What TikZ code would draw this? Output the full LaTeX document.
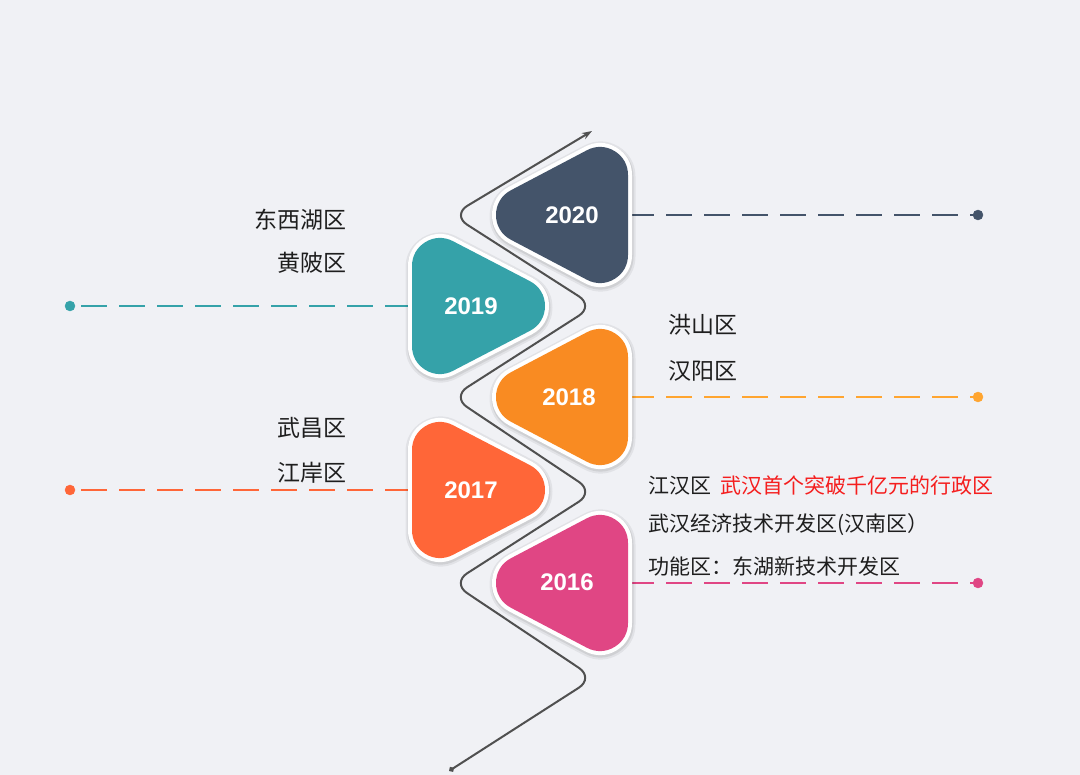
\documentclass[tikz,border=0pt]{standalone}
\usepackage{fontspec}
\setmainfont{Liberation Sans}
\newfontfamily\cjk{Noto Sans CJK SC}
\usetikzlibrary{arrows.meta}
\definecolor{bgc}{HTML}{F0F1F5}
\definecolor{wavec}{HTML}{505050}
\definecolor{txt}{HTML}{1E1E1E}
\definecolor{redt}{HTML}{F51E1E}
\definecolor{c2020}{HTML}{44546A}
\definecolor{c2019}{HTML}{35A2A9}
\definecolor{c2018}{HTML}{F98B22}
\definecolor{c2017}{HTML}{FF6638}
\definecolor{c2016}{HTML}{E04684}
\definecolor{l2018}{HTML}{FFA530}
\begin{document}
\begin{tikzpicture}[x=1pt, y=-1pt, line join=round, line cap=round,
	tri/.style={line width=56pt, line join=round,
		preaction={draw=black, opacity=.06, line width=70pt, transform canvas={xshift=.5pt, yshift=-1.5pt}},
		preaction={draw=black, opacity=.08, line width=66pt, transform canvas={xshift=.5pt, yshift=-1.5pt}},
		preaction={draw=white, line width=64pt}},
	year/.style={font=\fontsize{24}{24}\selectfont\bfseries, text=white, inner sep=0pt},
	area/.style={font=\cjk\fontsize{23}{23}\selectfont, text=txt, inner sep=0pt},
	note/.style={font=\cjk\fontsize{21}{21}\selectfont, text=txt, inner sep=0pt, anchor=west},
	dashline/.style={line width=2.2pt, line cap=butt, dash pattern=on 26pt off 12pt},
	wave/.style={draw=wavec, line width=2pt, rounded corners=18pt}]
		\useasboundingbox[fill=bgc] (0,0) rectangle (1080,775);
		% winding road
		\draw[wave, {Diamond[length=6pt,width=6pt]}-{Stealth[length=10pt,width=7pt]}] (449,771) -- (594,678) -- (452,583) -- (594,492) -- (452,397) -- (594,306) -- (452,215) -- (592,131);
		% end dots
		\draw[c2020, fill=c2020] (978,215) coordinate (d2020) circle(5pt);
		\draw[c2019, fill=c2019] (70,306) coordinate (d2019) circle(5pt);
		\draw[l2018, fill=l2018] (978,397) coordinate (d2018) circle(5pt);
		\draw[c2017, fill=c2017] (70,490) coordinate (d2017) circle(5pt);
		\draw[c2016, fill=c2016] (978,583) coordinate (d2016) circle(5pt);
		\coordinate (s2020) at (628,215);
		\coordinate (s2019) at (412,306);
		\coordinate (s2018) at (628,397);
		\coordinate (s2017) at (412,490);
		\coordinate (s2016) at (628,583);
		\draw[dashline, c2020] (s2020)--(d2020);
		\draw[dashline, c2019, dash phase=27pt] (d2019)--(s2019);
		\draw[dashline, l2018] (s2018)--(d2018);
		\draw[dashline, c2017, dash phase=27pt] (d2017)--(s2017);
		\draw[dashline, c2016] (s2016)--(d2016);
		% triangles
		\path[tri, draw=c2020, fill=c2020] (524,215) -- (600,175) -- (600,255) -- cycle;
		\path[tri, draw=c2019, fill=c2019] (517,306) -- (440,266) -- (440,346) -- cycle;
		\path[tri, draw=c2018, fill=c2018] (524,397) -- (600,357) -- (600,437) -- cycle;
		\path[tri, draw=c2017, fill=c2017] (517,490) -- (440,450) -- (440,530) -- cycle;
		\path[tri, draw=c2016, fill=c2016] (524,583) -- (600,543) -- (600,623) -- cycle;
		\node[year] (y2020) at (572,215) {2020};
		\node[year] (y2019) at (471,306) {2019};
		\node[year] (y2018) at (569,397) {2018};
		\node[year] (y2017) at (471,490) {2017};
		\node[year] (y2016) at (567,582) {2016};
		% districts
		\node[area, anchor=east] (dxh) at (347,220) {东西湖区};
		\node[area, anchor=east] (hp) at (347,263) {黄陂区};
		\node[area, anchor=west] (hs) at (668,325) {洪山区};
		\node[area, anchor=west] (hy) at (668,371) {汉阳区};
		\node[area, anchor=east] (wc) at (347,428) {武昌区};
		\node[area, anchor=east] (ja) at (347,473) {江岸区};
		\node[note] (jh) at (648,485) {江汉区\hspace{9pt}\textcolor{redt}{武汉首个突破千亿元的行政区}};
		\node[note] (jk) at (648,525) {武汉经济技术开发区(汉南区）};
		\node[note] (gn) at (648,566) {功能区：东湖新技术开发区};
\end{tikzpicture}
\end{document}
